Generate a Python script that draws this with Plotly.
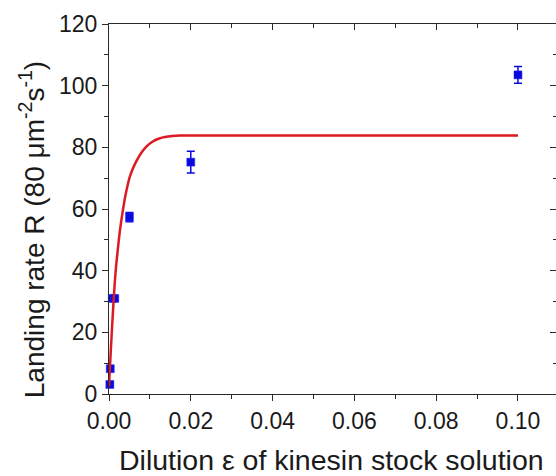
import plotly.graph_objects as go

# Measured landing rates versus dilution of the kinesin stock
dilution = [0.0002, 0.0003, 0.0008, 0.0014, 0.005, 0.02, 0.1]
rate = [3.1, 8.2, 31.0, 31.0, 57.4, 75.2, 103.5]
rate_err = [0.6, 0.6, 0.6, 0.6, 1.5, 3.5, 2.7]

# Saturation fit curve, sampled
fit_x = [0.0, 0.0003, 0.0006, 0.001, 0.0014, 0.0017, 0.0022, 0.0027, 0.0033,
         0.0039, 0.0045, 0.0051, 0.006, 0.0068, 0.008, 0.0092, 0.0106,
         0.0121, 0.014, 0.0174, 0.025, 0.04, 0.06, 0.08, 0.1]
fit_y = [2.5, 10.5, 18.0, 27.5, 36.0, 41.0, 47.5, 53.3, 58.8,
         63.6, 67.4, 70.5, 73.6, 75.8, 78.4, 80.3, 81.8,
         82.8, 83.4, 83.8, 83.8, 83.8, 83.8, 83.8, 83.8]

x_ticks = [0.0, 0.02, 0.04, 0.06, 0.08, 0.10]
y_ticks = [0, 20, 40, 60, 80, 100, 120]

FONT = "Liberation Sans, Arial, sans-serif"
AX = "#2a2a2a"
X_RANGE = [0, 0.1093]
Y_RANGE = [0, 120]

fig = go.Figure()

fig.add_trace(go.Scatter(
    x=dilution, y=rate, mode="markers",
    marker=dict(symbol="square", size=8, color="#0a0adc",
                line=dict(color="#2a2aff", width=0.5)),
    error_y=dict(type="data", array=rate_err, visible=True,
                 color="#0a0adc", thickness=1.5, width=4),
    cliponaxis=False, showlegend=False,
))

# Fit curve sits on the mirrored (top/right) axes so it draws above the data
fig.add_trace(go.Scatter(
    x=fit_x, y=fit_y, mode="lines", xaxis="x2", yaxis="y2",
    line=dict(color="#dc1a22", width=2.5, shape="spline", smoothing=0.6),
    hoverinfo="skip", showlegend=False,
))

tickfont = dict(family=FONT, size=23, color="#1a1a1a")

fig.update_layout(
    width=556, height=476,
    margin=dict(l=109, r=0, t=24, b=82),
    paper_bgcolor="white", plot_bgcolor="white",
    showlegend=False,
    xaxis=dict(
        range=X_RANGE, tickvals=x_ticks, tickformat=".2f",
        showline=True, linecolor=AX, linewidth=1.3,
        ticks="outside", ticklen=6, tickwidth=1.3, tickcolor=AX,
        minor=dict(ticks="outside", dtick=0.01, ticklen=3.5,
                   tickwidth=1.2, tickcolor=AX),
        showgrid=False, zeroline=False, tickfont=tickfont,
    ),
    xaxis2=dict(
        range=X_RANGE, overlaying="x", side="top", anchor="y2",
        showline=True, linecolor=AX, linewidth=1.3,
        tickvals=x_ticks, showticklabels=False,
        ticks="inside", ticklen=6, tickwidth=1.3, tickcolor=AX,
        minor=dict(ticks="inside", dtick=0.01, ticklen=3.5,
                   tickwidth=1.2, tickcolor=AX),
        showgrid=False, zeroline=False,
    ),
    yaxis=dict(
        range=Y_RANGE, tickvals=y_ticks,
        showline=True, linecolor=AX, linewidth=1.3,
        ticks="outside", ticklen=6, tickwidth=1.3, tickcolor=AX,
        minor=dict(ticks="outside", dtick=10, ticklen=3.5,
                   tickwidth=1.2, tickcolor=AX),
        showgrid=False, zeroline=False, tickfont=tickfont,
    ),
    yaxis2=dict(
        range=Y_RANGE, overlaying="y", side="right", anchor="x2",
        showline=False, tickvals=y_ticks, showticklabels=False,
        ticks="inside", ticklen=6, tickwidth=1.3, tickcolor=AX,
        minor=dict(ticks="inside", dtick=10, ticklen=3.5,
                   tickwidth=1.2, tickcolor=AX),
        showgrid=False, zeroline=False,
    ),
)

# Axis titles
fig.add_annotation(
    text="Dilution \u03b5 of kinesin stock solution",
    xref="paper", yref="paper", x=0.498, y=-0.178, xanchor="center",
    yanchor="middle", showarrow=False,
    font=dict(family=FONT, size=28.5, color="#1a1a1a"),
)
fig.add_annotation(
    text="Landing rate R (80 \u03bcm<sup>-2</sup>s<sup>-1</sup>)",
    xref="paper", yref="paper", x=-0.172, y=0.443, xanchor="center",
    yanchor="middle", textangle=-90, showarrow=False,
    font=dict(family=FONT, size=28, color="#1a1a1a"),
)

fig.write_html("out.html")
